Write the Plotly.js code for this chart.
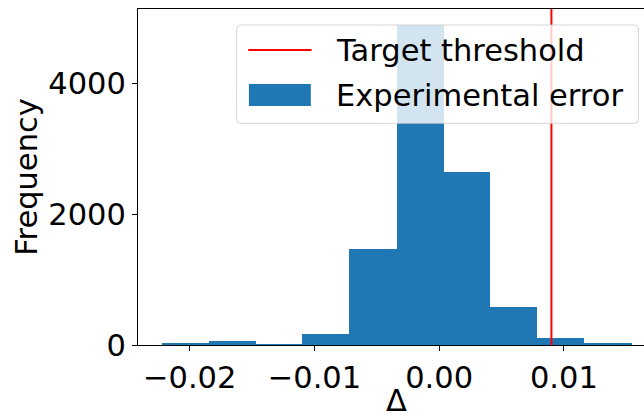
<!DOCTYPE html>
<html>
<head>
<meta charset="utf-8">
<script src="https://cdn.plot.ly/plotly-3.0.1.min.js"></script>
<style>
html,body{margin:0;padding:0;overflow:hidden;background:#fff;}
#chart{width:660px;height:418px;}
</style>
</head>
<body>
<div id="chart"></div>
<script>
// Histogram bin edges (Δ) and counts
const binEdges = [-0.02226, -0.01849, -0.01472, -0.01096, -0.00719, -0.00342, 0.00035, 0.00411, 0.00788, 0.01165, 0.01542];
const counts = [25, 60, 15, 168, 1469, 4895, 2648, 586, 107, 30];
const threshold = 0.009;
const seriesNames = ["Target threshold", "Experimental error"];
const yTickVals = [0, 2000, 4000];
const xTickVals = [-0.02, -0.01, 0.00, 0.01];

const W = 660, H = 418;
const mL = 138, mR = 4.5, mT = 9, mB = 73;
const pW = W - mL - mR, pH = H - mT - mB;
const xp = px => (px - mL) / pW;
const yp = py => 1 - (py - mT) / pH;

const lefts = binEdges.slice(0, -1);
const widths = lefts.map((e, i) => binEdges[i + 1] - e);
const span = binEdges[binEdges.length - 1] - binEdges[0];
const xRange = [binEdges[0] - 0.05 * span, binEdges[binEdges.length - 1] + 0.05 * span];
const yTop = Math.max(...counts) * 1.05;

const font = {family: "DejaVu Sans", size: 30.5, color: "#000"};

const traces = [
  {type: "bar", x: lefts, y: counts, width: widths, offset: 0,
   marker: {color: "#1f77b4", line: {width: 0}}, name: seriesNames[1], showlegend: false, hoverinfo: "skip"},
  {type: "scatter", mode: "lines", x: [threshold, threshold], y: [0, yTop],
   line: {color: "#ff0000", width: 2}, name: seriesNames[0], showlegend: false, hoverinfo: "skip"}
];

// manual legend (matplotlib style)
const r = 4;
const bx0 = 236.7, bx1 = 639, by0 = 25, by1 = 123.3;
function roundedPath(x0, y0, x1, y1, rad) {
  const X = v => xp(v), Y = v => yp(v);
  return `M ${X(x0 + rad)} ${Y(y0)} L ${X(x1 - rad)} ${Y(y0)} Q ${X(x1)} ${Y(y0)} ${X(x1)} ${Y(y0 + rad)} ` +
         `L ${X(x1)} ${Y(y1 - rad)} Q ${X(x1)} ${Y(y1)} ${X(x1 - rad)} ${Y(y1)} ` +
         `L ${X(x0 + rad)} ${Y(y1)} Q ${X(x0)} ${Y(y1)} ${X(x0)} ${Y(y1 - rad)} ` +
         `L ${X(x0)} ${Y(y0 + rad)} Q ${X(x0)} ${Y(y0)} ${X(x0 + rad)} ${Y(y0)} Z`;
}
const shapes = [
  {type: "path", xref: "paper", yref: "paper", layer: "above", path: roundedPath(bx0, by0, bx1, by1, r),
   fillcolor: "rgba(255,255,255,0.8)", line: {color: "rgba(204,204,204,0.8)", width: 1}},
  {type: "line", xref: "paper", yref: "paper", layer: "above",
   x0: xp(248.3), x1: xp(311.7), y0: yp(50), y1: yp(50), line: {color: "#ff0000", width: 2}},
  {type: "rect", xref: "paper", yref: "paper", layer: "above",
   x0: xp(249), x1: xp(311), y0: yp(84), y1: yp(106), fillcolor: "#1f77b4", line: {width: 0}}
];
const annotations = [
  {xref: "paper", yref: "paper", x: xp(334), y: yp(50), xanchor: "left", yanchor: "middle",
   text: seriesNames[0], showarrow: false, font: font},
  {xref: "paper", yref: "paper", x: xp(334), y: yp(95), xanchor: "left", yanchor: "middle",
   text: seriesNames[1], showarrow: false, font: font}
];

const layout = {
  width: W, height: H,
  margin: {l: mL, r: mR, t: mT, b: mB, pad: 0},
  paper_bgcolor: "#fff", plot_bgcolor: "#fff",
  bargap: 0, showlegend: false,
  font: font,
  xaxis: {range: xRange, tickvals: xTickVals, tickformat: ".2f", showgrid: false, zeroline: false,
          showline: true, mirror: true, linecolor: "#000", linewidth: 1,
          ticks: "outside", ticklen: 5, tickwidth: 1, tickcolor: "#000", tickfont: font,
          title: {text: "Δ", font: font, standoff: 6}},
  yaxis: {range: [0, yTop], tickvals: yTickVals, showgrid: false, zeroline: false,
          showline: true, mirror: true, linecolor: "#000", linewidth: 1,
          ticks: "outside", ticklen: 5, tickwidth: 1, tickcolor: "#000", tickfont: font,
          title: {text: "Frequency", font: font, standoff: 1}},
  shapes: shapes,
  annotations: annotations
};

Plotly.newPlot("chart", traces, layout, {staticPlot: true, displayModeBar: false});
</script>
</body>
</html>
